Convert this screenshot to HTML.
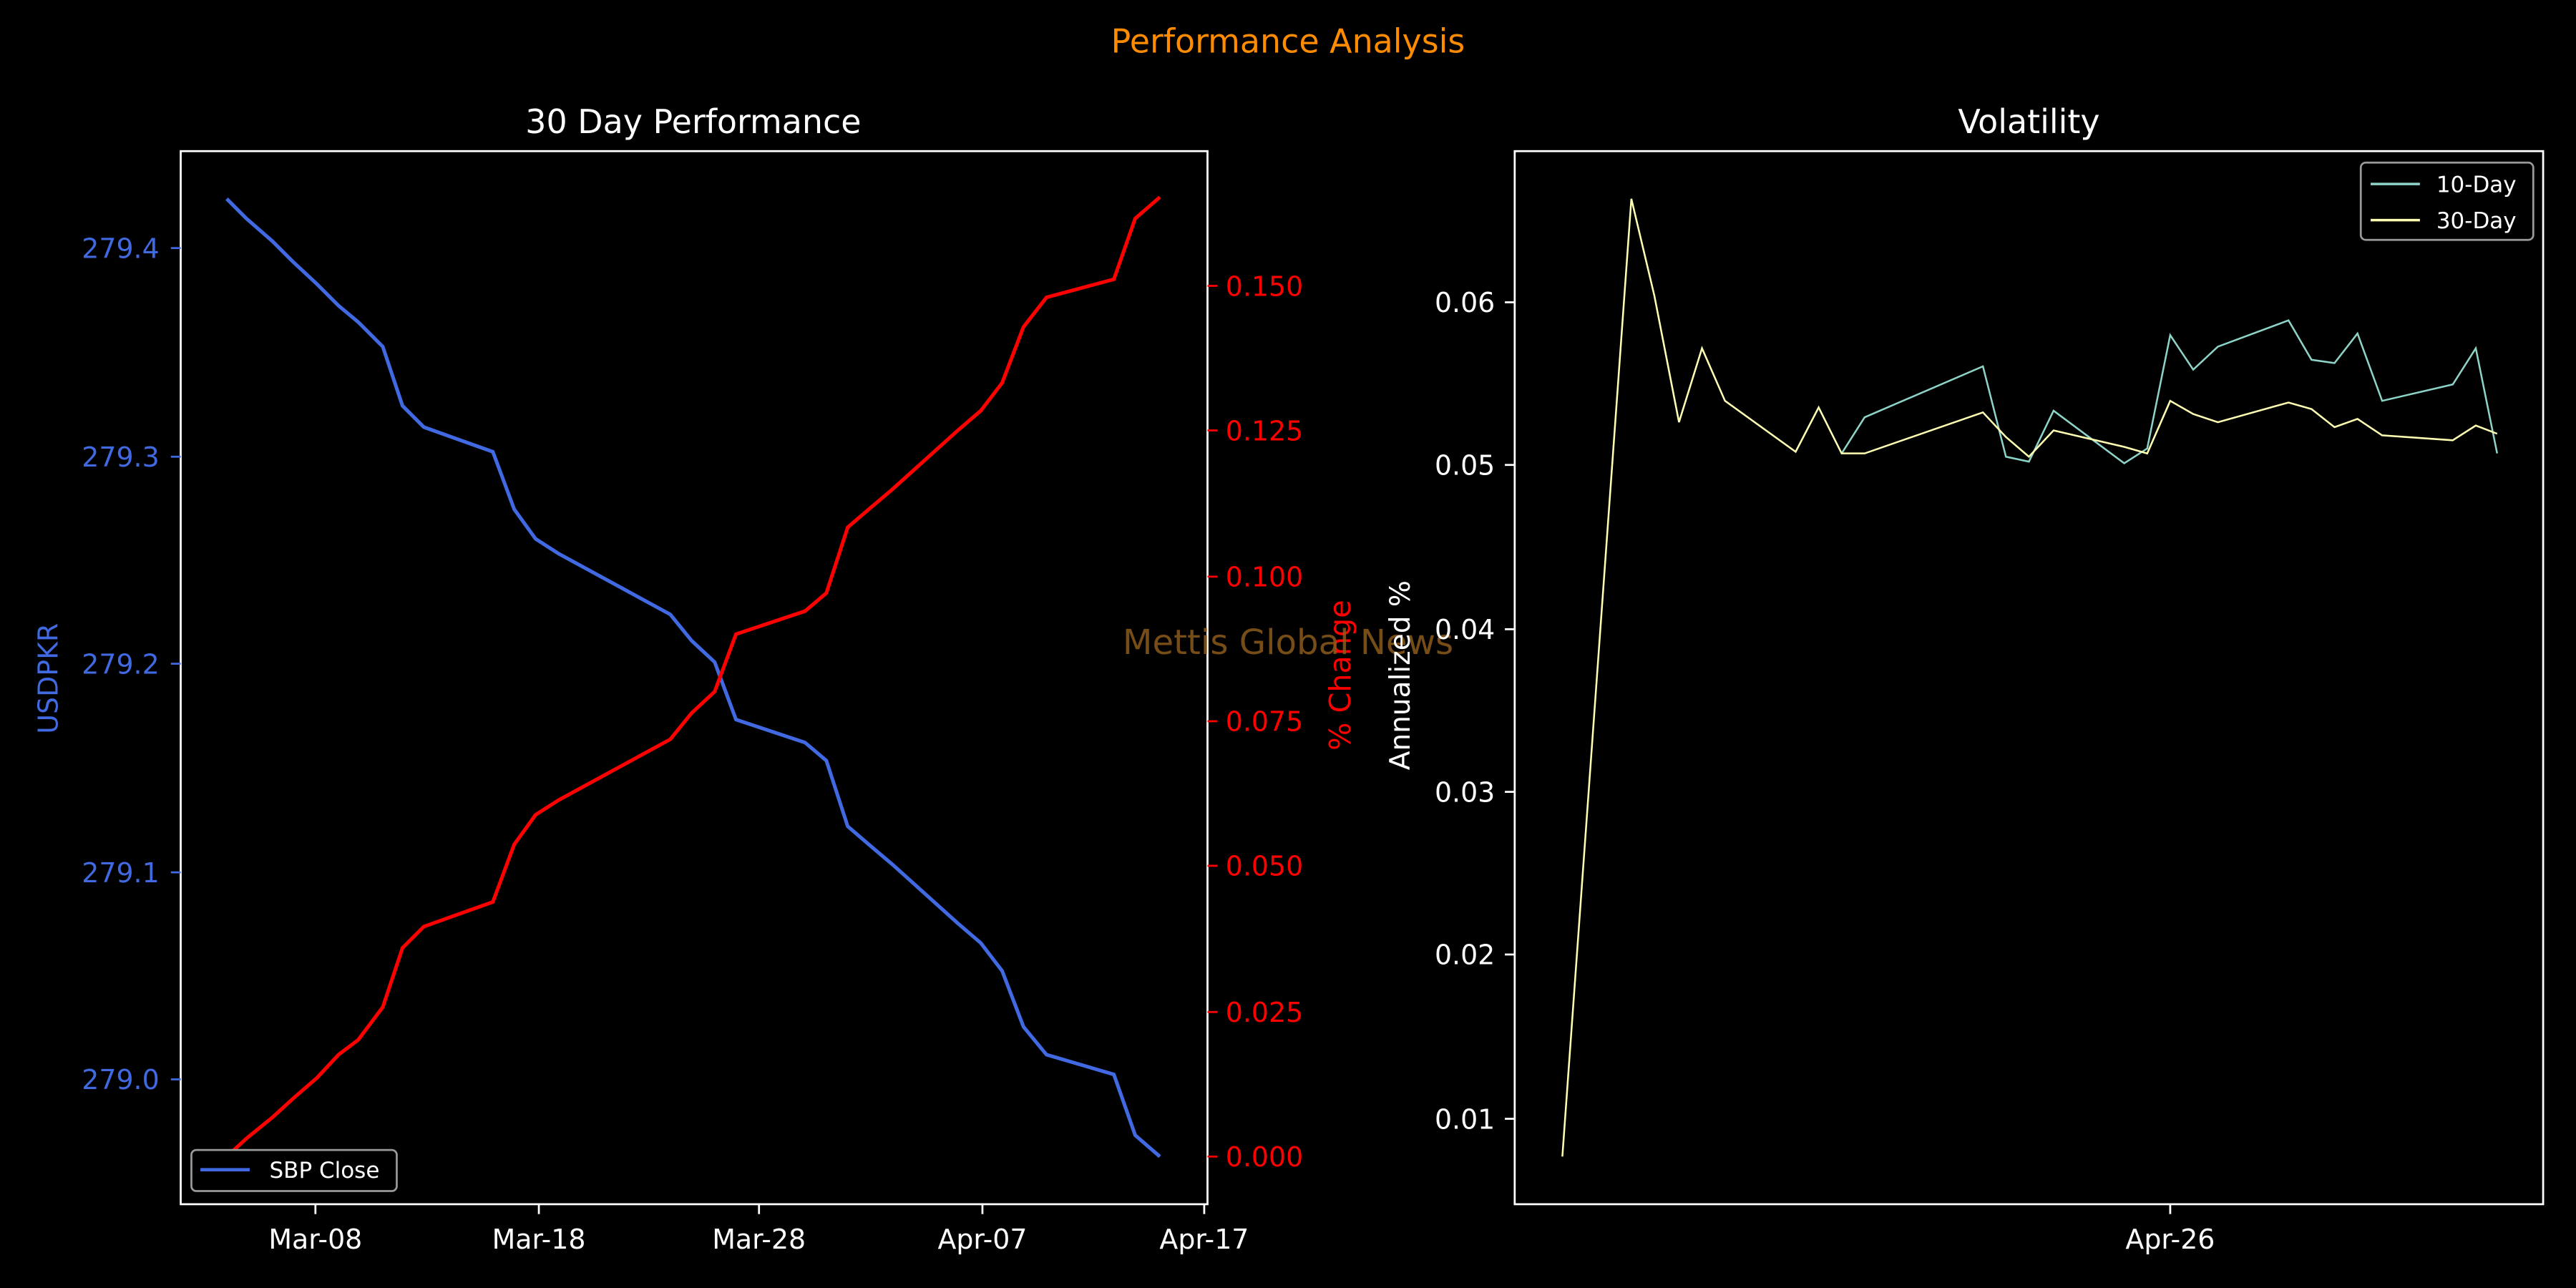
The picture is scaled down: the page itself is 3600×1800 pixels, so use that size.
<!DOCTYPE html>
<html><head><meta charset="utf-8"><style>html,body{margin:0;padding:0;background:#000}svg{display:block}</style></head>
<body>
<svg width="3600" height="1800" viewBox="0 0 1568 784" xmlns="http://www.w3.org/2000/svg" font-family="DejaVu Sans, Liberation Sans, sans-serif">
<rect width="1568" height="784" fill="#000"/>
<text x="784" y="32" fill="#ff8c00" font-size="20" text-anchor="middle">Performance Analysis</text>
<text x="422" y="81" fill="#fff" font-size="20" text-anchor="middle">30 Day Performance</text>
<text x="1235" y="81" fill="#fff" font-size="20" text-anchor="middle">Volatility</text>

<rect x="110" y="92" width="625" height="641" fill="none" stroke="#fff" stroke-width="1.2"/>
<g fill="#4169e1" font-size="16.5" text-anchor="end" stroke="none">
<text x="97" y="157">279.4</text><text x="97" y="284">279.3</text><text x="97" y="410">279.2</text><text x="97" y="537">279.1</text><text x="97" y="663">279.0</text>
</g>
<g stroke="#4169e1" stroke-width="1.2"><line x1="104" y1="151" x2="110" y2="151"/><line x1="104" y1="278" x2="110" y2="278"/><line x1="104" y1="404" x2="110" y2="404"/><line x1="104" y1="531" x2="110" y2="531"/><line x1="104" y1="657" x2="110" y2="657"/></g>
<text transform="translate(35,413) rotate(-90)" fill="#4169e1" font-size="16.5" text-anchor="middle">USDPKR</text>
<g stroke="red" stroke-width="1.2">
<line x1="735" y1="704" x2="741" y2="704"/><line x1="735" y1="616" x2="741" y2="616"/><line x1="735" y1="527" x2="741" y2="527"/><line x1="735" y1="439" x2="741" y2="439"/><line x1="735" y1="351" x2="741" y2="351"/><line x1="735" y1="262" x2="741" y2="262"/><line x1="735" y1="174" x2="741" y2="174"/></g>
<g fill="red" font-size="16.5">
<text x="746" y="710">0.000</text><text x="746" y="622">0.025</text><text x="746" y="533">0.050</text><text x="746" y="445">0.075</text><text x="746" y="357">0.100</text><text x="746" y="268">0.125</text><text x="746" y="180">0.150</text></g>
<text transform="translate(822,411) rotate(-90)" fill="red" font-size="18" text-anchor="middle">% Change</text>
<g stroke="#fff" stroke-width="1.2"><line x1="192" y1="733" x2="192" y2="739"/><line x1="328" y1="733" x2="328" y2="739"/><line x1="462" y1="733" x2="462" y2="739"/><line x1="598" y1="733" x2="598" y2="739"/><line x1="733" y1="733" x2="733" y2="739"/></g>
<g fill="#fff" font-size="16.5" text-anchor="middle"><text x="192" y="760">Mar-08</text><text x="328" y="760">Mar-18</text><text x="462" y="760">Mar-28</text><text x="598" y="760">Apr-07</text><text x="733" y="760">Apr-17</text></g>
<polyline fill="none" stroke="#4169e1" stroke-width="2.2" points="138,121 150,133 166,147 178,159 193,173 206,186 218,196 233,211 245,247 258,260 300,275 313,310 326,328 340,337 408,374 421,390 435,403 448,438 490,452 503,463 516,503 530,515 543,526 583,562 597,574 610,591 623,625 637,642 678,654 691,691 706,704"/>
<polyline fill="none" stroke="red" stroke-width="2.2" points="138,704 150,693 166,680 178,669 193,656 206,642 218,633 233,613 245,577 258,564 300,549 313,514 326,496 340,487 408,450 421,434 435,421 448,386 490,372 503,361 516,321 530,309 543,298 583,262 597,250 610,233 623,199 637,181 678,170 691,133 706,120"/>
<rect x="116.5" y="700" width="125" height="25" rx="3" fill="#000" stroke="#999" stroke-width="1.2"/>
<line x1="122" y1="712" x2="152" y2="712" stroke="#4169e1" stroke-width="2"/>
<text x="164" y="717" fill="#fff" font-size="13.5">SBP Close</text>
<text x="784" y="398" fill="#8b5a1a" fill-opacity="0.85" font-size="21" text-anchor="middle">Mettis Global News</text>

<rect x="922" y="92" width="626" height="641" fill="none" stroke="#fff" stroke-width="1.2"/>
<g stroke="#fff" stroke-width="1.2"><line x1="916" y1="184" x2="922" y2="184"/><line x1="916" y1="283" x2="922" y2="283"/><line x1="916" y1="383" x2="922" y2="383"/><line x1="916" y1="482" x2="922" y2="482"/><line x1="916" y1="581" x2="922" y2="581"/><line x1="916" y1="681" x2="922" y2="681"/><line x1="1321" y1="733" x2="1321" y2="739"/></g>
<g fill="#fff" font-size="16.5" text-anchor="end"><text x="910" y="190">0.06</text><text x="910" y="289">0.05</text><text x="910" y="389">0.04</text><text x="910" y="488">0.03</text><text x="910" y="587">0.02</text><text x="910" y="687">0.01</text></g>
<text x="1321" y="760" fill="#fff" font-size="16.5" text-anchor="middle">Apr-26</text>
<text transform="translate(858,411) rotate(-90)" fill="#fff" font-size="17" text-anchor="middle">Annualized %</text>
<polyline fill="none" stroke="#8dd3c7" stroke-width="1.1" points="1121,276 1135,254 1207,223 1221,278 1235,281 1250,250 1293,282 1307,273 1321,204 1335,225 1350,211 1393,195 1407,219 1421,221 1435,203 1450,244 1493,234 1507,212 1520,276"/>
<polyline fill="none" stroke="#ffffb3" stroke-width="1.1" points="951,704 993,121 1007,180 1022,257 1036,212 1050,244 1093,275 1107,248 1121,276 1135,276 1207,251 1221,266 1235,278 1250,262 1293,272 1307,276 1321,244 1335,252 1350,257 1393,245 1407,249 1421,260 1435,255 1450,265 1493,268 1507,259 1520,264"/>
<rect x="1437" y="99" width="105" height="47" rx="3" fill="#000" stroke="#999" stroke-width="1.2"/>
<line x1="1443" y1="112" x2="1473" y2="112" stroke="#8dd3c7" stroke-width="1.5"/>
<line x1="1443" y1="134" x2="1473" y2="134" stroke="#ffffb3" stroke-width="1.5"/>
<text x="1483" y="117" fill="#fff" font-size="13.5">10-Day</text>
<text x="1483" y="139" fill="#fff" font-size="13.5">30-Day</text>
</svg>
</body></html>
